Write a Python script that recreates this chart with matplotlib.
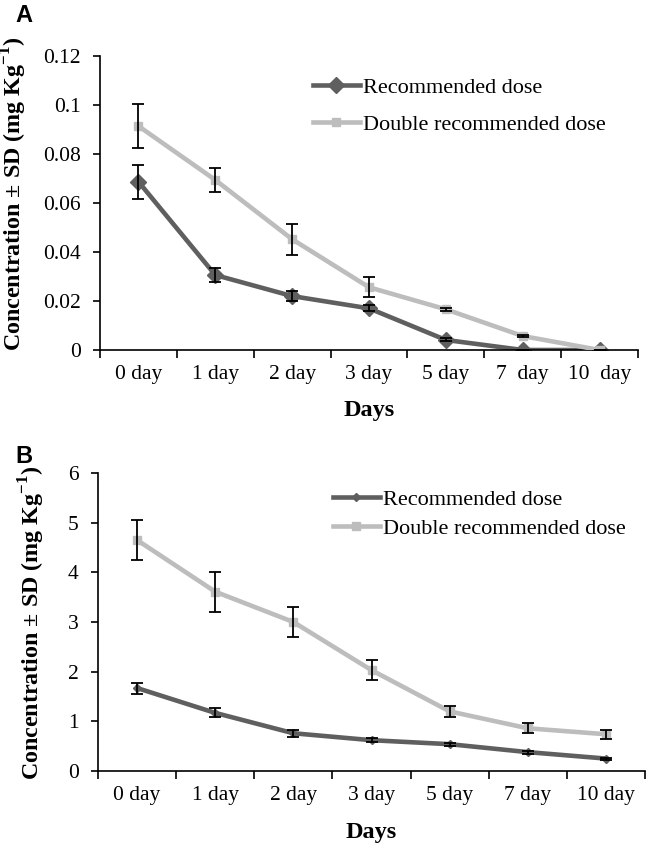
import numpy as np
import matplotlib
matplotlib.use('Agg')
import matplotlib.pyplot as plt
from matplotlib.lines import Line2D

plt.rcParams['font.family'] = ['Liberation Serif', 'DejaVu Serif']
plt.rcParams['mathtext.fontset'] = 'custom'
plt.rcParams['mathtext.rm'] = 'Liberation Serif'
plt.rcParams['mathtext.bf'] = 'Liberation Serif:bold'

days = ['0 day', '1 day', '2 day', '3 day', '5 day', '7 day', '10 day']
days_a = ['0 day', '1 day', '2 day', '3 day', '5 day', '7  day', '10  day']

# panel A
rec_a = [0.0687, 0.0306, 0.0220, 0.0170, 0.0041, 0.0, 0.0]
rec_a_sd = [0.0070, 0.0030, 0.0020, 0.0012, 0.0006, 0.0, 0.0]
dbl_a = [0.0914, 0.0694, 0.0452, 0.0256, 0.0166, 0.0057, 0.0]
dbl_a_sd = [0.0090, 0.0050, 0.0063, 0.0040, 0.0005, 0.0004, 0.0]

# panel B
rec_b = [1.67, 1.17, 0.76, 0.62, 0.54, 0.38, 0.25]
rec_b_sd = [0.11, 0.09, 0.07, 0.04, 0.03, 0.03, 0.02]
dbl_b = [4.65, 3.61, 3.00, 2.03, 1.20, 0.86, 0.74]
dbl_b_sd = [0.40, 0.40, 0.30, 0.20, 0.11, 0.10, 0.09]

dark = '#5f5f5f'
light = '#bdbdbd'
W, H = 646, 849
fig = plt.figure(figsize=(W / 100, H / 100), dpi=100)

ylab = r'Concentration ± SD (mg Kg$^{\mathbf{-1}}$)'


def panel(rect, labels, rec, rec_sd, dbl, dbl_sd, ymax, yticks, ytl, rec_ms,
          ylab_xy, leg, rowgap):
    l, t, r, b = rect
    ax = fig.add_axes([l / W, 1 - b / H, (r - l) / W, (b - t) / H])
    x = np.arange(len(labels))
    ax.plot(x, rec, color=dark, lw=3.3, marker='D', ms=rec_ms, zorder=2)
    ax.plot(x, dbl, color=light, lw=3.3, marker='s', ms=5.5, zorder=3)
    for v, e in [(rec, rec_sd), (dbl, dbl_sd)]:
        ax.errorbar(x, v, yerr=e, fmt='none', ecolor='black', elinewidth=1.3,
                    capsize=4, capthick=1.3, zorder=4)
    ax.set_xlim(-0.5, len(labels) - 0.5)
    ax.set_ylim(0, ymax)
    ax.set_yticks(yticks)
    ax.set_yticklabels(ytl)
    ax.set_xticks(np.arange(-0.5, len(labels), 1.0))
    ax.set_xticklabels([])
    ax.set_xticks(x, minor=True)
    ax.set_xticklabels(labels, minor=True)
    ax.tick_params(axis='x', which='minor', length=0, pad=11, labelsize=15.5)
    ax.tick_params(axis='x', which='major', length=6, width=1.2)
    ax.tick_params(axis='y', length=5, width=1.2, labelsize=15.5, pad=9)
    for s in ['top', 'right']:
        ax.spines[s].set_visible(False)
    ax.spines['left'].set_linewidth(1.2)
    ax.spines['bottom'].set_linewidth(1.2)
    ax.set_xlabel('Days', fontsize=17.5, fontweight='bold')
    ax.xaxis.set_label_coords(0.5, -0.17)
    ax.set_ylabel(ylab, fontsize=17.3, fontweight='bold')
    ax.yaxis.set_label_coords((ylab_xy[0] - l) / (r - l), (b - ylab_xy[1]) / (b - t))
    h = [Line2D([], [], color=dark, lw=3.3, marker='D', ms=rec_ms),
         Line2D([], [], color=light, lw=3.3, marker='s', ms=5.5)]
    ax.legend(h, ['Recommended dose', 'Double recommended dose'],
              loc='center left', bbox_to_anchor=(leg[0] / W, 1 - leg[1] / H),
              bbox_transform=fig.transFigure, frameon=False, fontsize=16,
              handlelength=2.1, handletextpad=0.15, labelspacing=rowgap,
              borderpad=0, borderaxespad=0)
    return ax


panel((100, 56, 638, 350), days_a, rec_a, rec_a_sd, dbl_a, dbl_a_sd, 0.12,
      [0, 0.02, 0.04, 0.06, 0.08, 0.1, 0.12],
      ['0', '0.02', '0.04', '0.06', '0.08', '0.1', '0.12'], 8,
      (29, 194), (313, 106), 0.75)
panel((98, 473, 645, 771), days, rec_b, rec_b_sd, dbl_b, dbl_b_sd, 6,
      [0, 1, 2, 3, 4, 5, 6], ['0', '1', '2', '3', '4', '5', '6'], 4.5,
      (47, 623), (333, 514), 0.4)

fig.text(24 / W, 1 - 15 / H, 'A', fontsize=17, fontweight='bold',
         family='Liberation Sans', va='center', ha='center')
fig.text(24 / W, 1 - 456 / H, 'B', fontsize=17, fontweight='bold',
         family='Liberation Sans', va='center', ha='center')

fig.savefig('out.png', dpi=100)
